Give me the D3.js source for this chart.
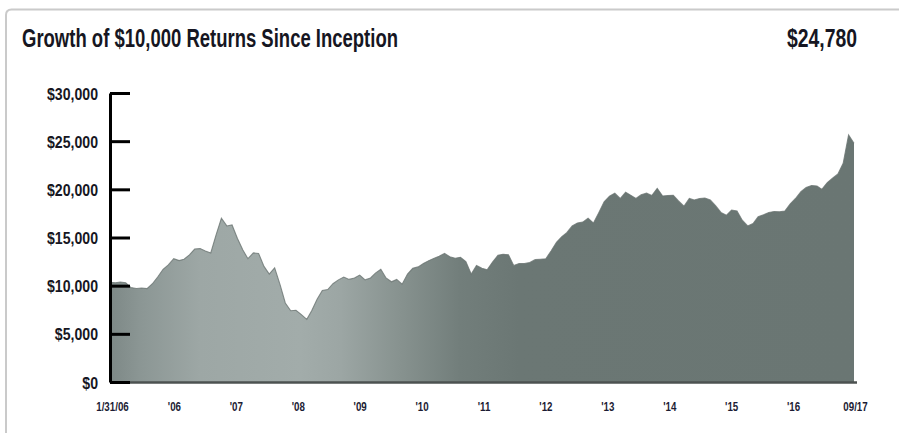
<!DOCTYPE html>
<html>
<head>
<meta charset="utf-8">
<script src="https://cdn.jsdelivr.net/npm/d3@7"></script>
<style>
  body { margin: 0; background: #fff; }
  svg { display: block; }
</style>
</head>
<body>
<svg id="chart" width="899" height="433"></svg>
<script>
// Month-end value of a hypothetical $10,000 investment, Jan 2006 .. Sep 2017
const startMonth = "2006-01";
const growth = [
  10350, 10300, 10380, 10300, 9800, 9700, 9750, 9700, 10200, 10900, 11700, 12150,
  12800, 12600, 12750, 13200, 13800, 13850, 13600, 13400, 15300, 17000, 16200, 16300,
  14900, 13700, 12800, 13400, 13350, 12000, 11200, 11850, 10100, 8200, 7400, 7450,
  7000, 6500, 7400, 8600, 9500, 9600, 10200, 10600, 10900, 10650, 10800, 11100,
  10600, 10800, 11300, 11700, 10800, 10400, 10650, 10150, 11200, 11800, 11950, 12300,
  12600, 12850, 13050, 13350, 13000, 12850, 12950, 12500, 11200, 12100, 11800, 11650,
  12450, 13150, 13250, 13200, 12100, 12300, 12300, 12400, 12700, 12750, 12800, 13600,
  14500, 15100, 15500, 16200, 16500, 16600, 17000, 16500, 17600, 18700, 19300, 19600,
  19050, 19700, 19400, 19050, 19450, 19600, 19350, 20100, 19300, 19350, 19380, 18800,
  18250, 19050, 18900, 19050, 19100, 18900, 18300, 17600, 17300, 17850, 17750, 16800,
  16200, 16450, 17150, 17350, 17600, 17700, 17680, 17750, 18500, 19050, 19750, 20200,
  20400, 20350, 20000, 20700, 21150, 21600, 22700, 25640, 24780
];
const yTicks = [0, 5000, 10000, 15000, 20000, 25000, 30000];
const xLabels = ["1/31/06", "'06", "'07", "'08", "'09", "'10", "'11", "'12", "'13", "'14", "'15", "'16", "09/17"];
const titleText = "Growth of $10,000 Returns Since Inception";

const svg = d3.select("#chart");
const textColor = "#161622";
const fontFamily = "'Liberation Sans', Arial, sans-serif";

const start = d3.timeParse("%Y-%m")(startMonth);
const series = growth.map((v, i) => ({ date: d3.timeMonth.offset(start, i), value: v }));

const plot = { left: 110, right: 854, top: 93, bottom: 382 };
const x = d3.scaleTime()
  .domain(d3.extent(series, d => d.date))
  .range([plot.left, plot.right]);
const y = d3.scaleLinear().domain([0, 30000]).range([plot.bottom, plot.top]);
const xLabelScale = d3.scalePoint().domain(xLabels).range([112, 855]);

// panel frame (top and left rule with a rounded corner)
svg.append("path")
  .attr("d", "M6,433 V15 Q6,9.5 11.5,9.5 H899")
  .attr("fill", "none")
  .attr("stroke", "#cacaca")
  .attr("stroke-width", 2);

// header
svg.append("text")
  .attr("x", 22).attr("y", 46.5)
  .attr("font-family", fontFamily)
  .attr("font-weight", "bold")
  .attr("font-size", 26)
  .attr("fill", textColor)
  .attr("textLength", 376)
  .attr("lengthAdjust", "spacingAndGlyphs")
  .text(titleText);

svg.append("text")
  .attr("x", 857).attr("y", 46.5)
  .attr("text-anchor", "end")
  .attr("font-family", fontFamily)
  .attr("font-weight", "bold")
  .attr("font-size", 26)
  .attr("fill", textColor)
  .attr("textLength", 70)
  .attr("lengthAdjust", "spacingAndGlyphs")
  .text(d3.format("$,")(growth[growth.length - 1]));

// horizontal shading of the area
const defs = svg.append("defs");
const grad = defs.append("linearGradient")
  .attr("id", "areaFill")
  .attr("gradientUnits", "userSpaceOnUse")
  .attr("x1", plot.left).attr("x2", plot.right)
  .attr("y1", 0).attr("y2", 0);
[
  [0, "#7d8886"], [0.04, "#8b9694"], [0.12, "#9da7a5"], [0.255, "#a2acaa"],
  [0.31, "#9ca6a4"], [0.39, "#87928f"], [0.47, "#727e7b"], [0.55, "#6b7774"], [1, "#6a7673"]
].forEach(([o, c]) => grad.append("stop").attr("offset", o).attr("stop-color", c));

const area = d3.area()
  .x(d => x(d.date))
  .y0(y(0))
  .y1(d => y(d.value));

svg.append("path")
  .datum(series)
  .attr("d", area)
  .attr("fill", "url(#areaFill)");

svg.append("path")
  .datum(series)
  .attr("d", d3.line().x(d => x(d.date)).y(d => y(d.value)))
  .attr("fill", "none")
  .attr("stroke", "#6a7472")
  .attr("stroke-opacity", 0.8)
  .attr("stroke-width", 1.1);

// dark floor under the area
svg.append("line")
  .attr("x1", plot.left).attr("x2", 857)
  .attr("y1", plot.bottom + 0.5).attr("y2", plot.bottom + 0.5)
  .attr("stroke", "#4c5251")
  .attr("stroke-width", 2.5);

// y axis with inward ticks
const yAxis = svg.append("g")
  .attr("transform", `translate(${plot.left},0)`)
  .call(d3.axisLeft(y)
    .tickValues(yTicks)
    .tickSize(-20)
    .tickSizeOuter(0)
    .tickFormat(d3.format("$,")));
yAxis.select(".domain").attr("stroke", "#000").attr("stroke-width", 3);
yAxis.selectAll(".tick line").attr("stroke", "#000").attr("stroke-width", 3);
yAxis.selectAll(".tick text")
  .attr("x", 0)
  .attr("dy", "0.36em")
  .attr("transform", "translate(-12,0) scale(0.83,1)")
  .attr("font-family", fontFamily)
  .attr("font-weight", "bold")
  .attr("font-size", 17)
  .attr("fill", textColor);

// x labels
const xAxis = svg.append("g")
  .attr("transform", "translate(0,411)")
  .call(d3.axisBottom(xLabelScale).tickSize(0));
xAxis.select(".domain").remove();
xAxis.selectAll(".tick text")
  .attr("y", 0)
  .attr("dy", 0)
  .attr("transform", "scale(0.75,1)")
  .attr("font-family", fontFamily)
  .attr("font-weight", "bold")
  .attr("font-size", 13)
  .attr("fill", "#1c1c34");
</script>
</body>
</html>
